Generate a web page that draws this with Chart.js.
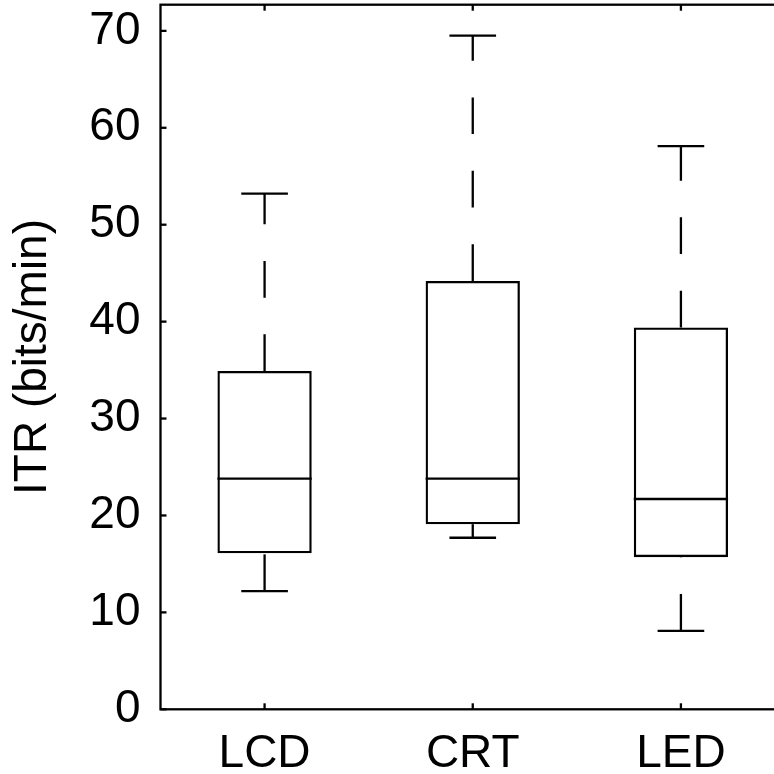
<!DOCTYPE html>
<html><head><meta charset="utf-8">
<script src="https://cdn.jsdelivr.net/npm/chart.js@4/dist/chart.umd.min.js"></script>
<style>html,body{margin:0;padding:0;background:#fff;overflow:hidden;} #wrap{position:relative;width:790px;height:774px;}</style>
</head><body><div id="wrap"><canvas id="c"></canvas></div>
<script>
const categories = ['LCD', 'CRT', 'LED'];
const lowerWhisker = [12.2, 17.7, 8.1];
const q1 = [16.1, 19.1, 15.7];
const median = [23.8, 23.8, 21.7];
const q3 = [34.9, 44.2, 39.4];
const upperWhisker = [53.2, 69.5, 58.1];
const yTicks = [0, 10, 20, 30, 40, 50, 60, 70];
const yAxisTitle = 'ITR (bits/min)';
const yMin = 0, yMax = 72.7;

const FONT = {family: '"Liberation Sans", Arial, Helvetica, sans-serif', size: 46};
const LW = 2.3;

const boxPlugin = {
  id: 'boxExtras',
  afterDatasetsDraw(chart) {
    const {ctx, chartArea: a, scales: {x, y}} = chart;
    const meta = chart.getDatasetMeta(0);
    const catW = (a.right - a.left) / categories.length;
    ctx.save();
    ctx.strokeStyle = '#000';
    ctx.lineWidth = LW;
    ctx.lineCap = 'butt';
    categories.forEach((c, i) => {
      const bar = meta.data[i];
      const cx = x.getPixelForValue(i);
      const half = bar.width / 2;
      const ym = y.getPixelForValue(median[i]);
      ctx.setLineDash([]);
      ctx.beginPath(); ctx.moveTo(cx - half, ym); ctx.lineTo(cx + half, ym); ctx.stroke();
      ctx.setLineDash([36.7, 36.7]);
      ctx.beginPath(); ctx.moveTo(cx, y.getPixelForValue(q3[i])); ctx.lineTo(cx, y.getPixelForValue(upperWhisker[i])); ctx.stroke();
      ctx.beginPath(); ctx.moveTo(cx, y.getPixelForValue(lowerWhisker[i])); ctx.lineTo(cx, y.getPixelForValue(q1[i])); ctx.stroke();
      ctx.setLineDash([]);
      const capHalf = catW * 0.112;
      const yu = y.getPixelForValue(upperWhisker[i]);
      const yl = y.getPixelForValue(lowerWhisker[i]);
      ctx.beginPath(); ctx.moveTo(cx - capHalf, yu); ctx.lineTo(cx + capHalf, yu); ctx.stroke();
      ctx.beginPath(); ctx.moveTo(cx - capHalf, yl); ctx.lineTo(cx + capHalf, yl); ctx.stroke();
    });
    ctx.strokeRect(a.left, a.top, a.right - a.left, a.bottom - a.top);
    const tl = 6;
    y.ticks.forEach(t => {
      const py = y.getPixelForValue(t.value);
      ctx.beginPath(); ctx.moveTo(a.left, py); ctx.lineTo(a.left + tl, py); ctx.stroke();
      ctx.beginPath(); ctx.moveTo(a.right, py); ctx.lineTo(a.right - tl, py); ctx.stroke();
    });
    categories.forEach((c, i) => {
      const px = x.getPixelForValue(i);
      ctx.beginPath(); ctx.moveTo(px, a.bottom); ctx.lineTo(px, a.bottom - tl); ctx.stroke();
      ctx.beginPath(); ctx.moveTo(px, a.top); ctx.lineTo(px, a.top + tl); ctx.stroke();
    });
    ctx.restore();
  }
};

new Chart(document.getElementById('c'), {
  type: 'bar',
  data: {
    labels: categories,
    datasets: [{
      data: categories.map((c, i) => [q1[i], q3[i]]),
      backgroundColor: 'rgba(255,255,255,0)',
      borderColor: '#000',
      borderWidth: LW,
      borderSkipped: false,
      barPercentage: 0.453,
      categoryPercentage: 1.0
    }]
  },
  options: {
    responsive: true,
    maintainAspectRatio: false,
    animation: false,
    layout: {padding: {top: 4.7, right: 5, left: 0, bottom: 0}},
    plugins: {legend: {display: false}, tooltip: {enabled: false}},
    scales: {
      x: {
        type: 'category',
        offset: true,
        grid: {display: false, drawTicks: false},
        border: {display: false},
        ticks: {color: '#000', font: FONT, padding: 17, maxRotation: 0},
        afterFit(s) { s.height = 64.7; s.paddingLeft = 0; s.paddingRight = 0; }
      },
      y: {
        min: yMin, max: yMax,
        grid: {display: false, drawTicks: false},
        border: {display: false},
        ticks: {color: '#000', font: FONT, padding: 20, stepSize: 10, includeBounds: false},
        afterBuildTicks(s) { s.ticks = yTicks.map(v => ({value: v})); },
        title: {display: true, text: yAxisTitle, color: '#000', font: FONT, padding: {top: 6, bottom: 0}},
        afterFit(s) { s.width = 160.5; s.paddingTop = 0; s.paddingBottom = 0; }
      }
    }
  },
  plugins: [boxPlugin]
});
</script>
</body></html>
